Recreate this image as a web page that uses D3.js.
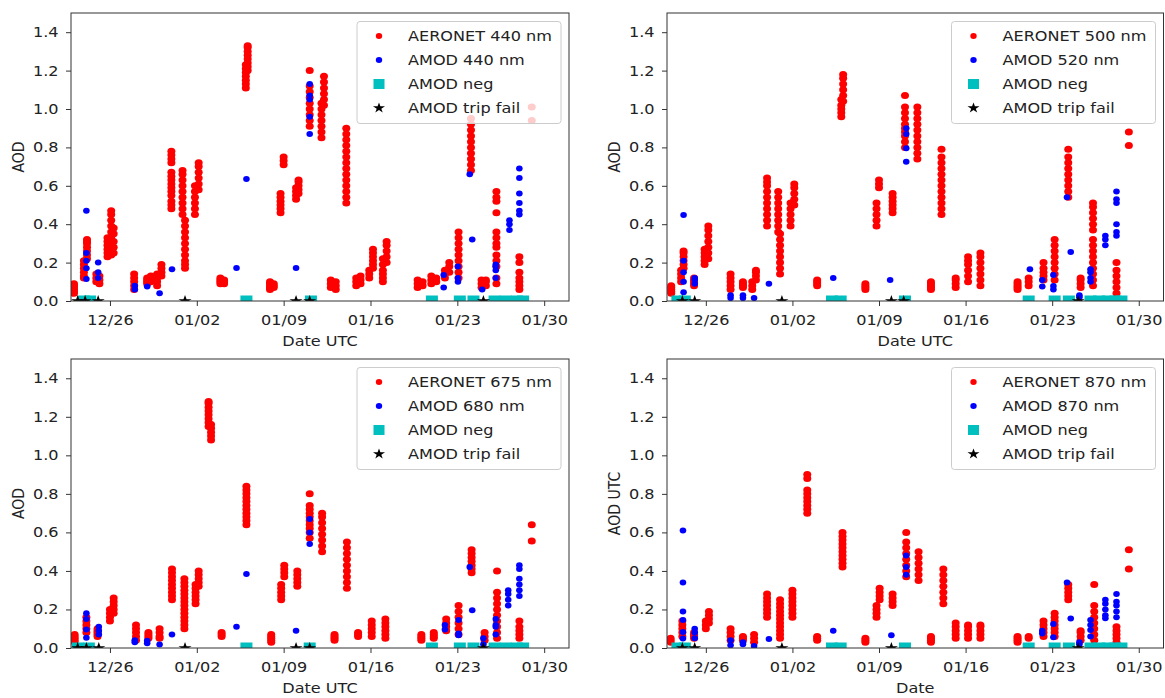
<!DOCTYPE html>
<html>
<head>
<meta charset="utf-8">
<script src="https://cdn.jsdelivr.net/npm/d3@7"></script>
<style>
  body { margin: 0; background: #fff; }
  svg { display: block; font-family: "DejaVu Sans", sans-serif; }
</style>
</head>
<body>
<div id="chart-area"></div>
<script>
/******************************
*           DATA              *
******************************/
// days are counted from 12/26 00:00 UTC, each entry is [day, [AOD values]]
const baseDay = Date.UTC(2018, 11, 26);
const tickDates = ["2018-12-26", "2019-01-02", "2019-01-09", "2019-01-16", "2019-01-23", "2019-01-30"];
const yTicks = [0, 0.2, 0.4, 0.6, 0.8, 1.0, 1.2, 1.4];

const aeronet440 = [
  [-2.9, [.04,.05,.06,.07,.08,.09]],
  [-2.1, [.12,.13,.15,.17,.19,.21]],
  [-1.85, [.22,.24,.26,.28,.30,.31,.32]],
  [-1.1, [.10,.12,.14]],
  [-0.85, [.09,.11,.13]],
  [-0.2, [.23,.25,.27,.29,.31,.33]],
  [0.1, [.24,.27,.30,.33,.36,.39,.42,.45,.47]],
  [0.3, [.25,.28,.31,.35,.38]],
  [1.95, [.06,.08,.10,.12,.14]],
  [3.0, [.09,.10,.11,.12]],
  [3.3, [.10,.11,.13]],
  [3.8, [.08,.10,.12,.14]],
  [4.15, [.13,.15,.17,.19]],
  [4.95, [.48,.50,.52,.55,.57,.59,.61,.63,.65,.67,.72,.74,.76,.78]],
  [5.85, [.45,.48,.51,.54,.57,.60,.63,.66,.68]],
  [6.05, [.17,.19,.21,.24,.27,.30,.33,.36,.39,.42]],
  [6.85, [.45,.48,.51,.54,.57,.60]],
  [7.15, [.58,.61,.64,.67,.70,.72]],
  [8.9, [.09,.10,.11,.12]],
  [9.2, [.09,.10,.11]],
  [10.95, [1.11,1.13,1.15,1.17,1.19,1.21,1.23]],
  [11.1, [1.20,1.22,1.24,1.26,1.28,1.30,1.32,1.33]],
  [12.9, [.06,.07,.08,.09,.10]],
  [13.2, [.07,.08,.09]],
  [13.75, [.46,.48,.50,.52,.54,.56]],
  [14.0, [.71,.73,.75]],
  [15.0, [.53,.55,.57,.59]],
  [15.2, [.56,.58,.60,.62,.63]],
  [16.1, [.91,.94,.97,1.00,1.03,1.06,1.09,1.12,1.20]],
  [17.05, [.85,.88,.91,.94,.97,1.00,1.03]],
  [17.25, [1.02,1.05,1.08,1.11,1.14,1.17]],
  [17.8, [.07,.09,.11]],
  [18.2, [.06,.08,.10]],
  [19.05, [.51,.54,.57,.60,.63,.66,.69,.72,.75,.78,.81,.84,.87,.90]],
  [19.85, [.08,.10,.12]],
  [20.2, [.09,.11,.13]],
  [20.9, [.12,.14,.16]],
  [21.2, [.17,.19,.21,.23,.25,.27]],
  [22.0, [.10,.12,.14,.16,.19,.22]],
  [22.3, [.20,.23,.26,.29,.31]],
  [24.8, [.07,.09,.11]],
  [25.2, [.08,.10]],
  [25.9, [.09,.11,.13]],
  [26.3, [.10,.12]],
  [27.0, [.12,.14,.16]],
  [27.35, [.15,.18,.20]],
  [28.1, [.12,.15,.18,.21,.24,.27,.30,.33,.36]],
  [29.1, [.68,.71,.74,.77,.80,.83,.86,.89,.92,.95]],
  [29.95, [.07,.09,.11]],
  [30.3, [.08,.10,.11]],
  [31.15, [.09,.12,.18,.21,.24,.28,.30,.33,.36,.46,.52,.54,.57]],
  [33.0, [.06,.08,.10,.12,.15,.20,.23]],
  [34.0, [.94,1.01]]
];
const amod440 = [
  [-1.9, [.115,.17,.21,.25,.47]],
  [-0.95, [.12,.15,.20]],
  [2.0, [.06,.08]],
  [3.0, [.075]],
  [4.0, [.04]],
  [5.0, [.165]],
  [10.2, [.172]],
  [11.0, [.636]],
  [15.0, [.172]],
  [16.1, [.87,.96,1.05,1.07,1.13]],
  [26.9, [.07,.135]],
  [28.05, [.10,.12,.18]],
  [29.0, [.66]],
  [29.2, [.32]],
  [30.0, [.06]],
  [31.1, [.12,.16,.18,.19]],
  [32.2, [.37,.40,.42]],
  [33.0, [.45,.47,.51,.56,.64,.69]]
];
const neg440 = [-2.1, -1.6, 11.0, 16.2, 25.95, 28.2, 29.3, 31.0, 31.9, 32.8, 33.3];
const fail440 = [-2.6, -2.0, -0.95, 6.05, 15.0, 16.1, 30.1];

const aeronet500 = [
  [-2.8, [.04,.05,.06,.07,.08]],
  [-2.0, [.10,.12,.14,.16]],
  [-1.8, [.17,.19,.21,.23,.25,.26]],
  [-0.95, [.08,.09,.10,.11,.12]],
  [-0.1, [.19,.21,.23,.25,.27]],
  [0.2, [.22,.25,.28,.31,.34,.37,.39]],
  [2.0, [.06,.08,.10,.12,.14]],
  [3.0, [.07,.08,.09,.10]],
  [3.75, [.06,.08,.10]],
  [4.05, [.11,.13,.15,.16]],
  [4.95, [.39,.42,.45,.48,.51,.54,.57,.60,.62,.64]],
  [5.85, [.36,.39,.42,.45,.48,.51,.54,.57]],
  [6.0, [.14,.17,.20,.23,.26,.29,.32,.35]],
  [6.85, [.39,.42,.45,.48,.51]],
  [7.15, [.50,.53,.56,.59,.61]],
  [9.0, [.08,.09,.10,.11]],
  [10.95, [.96,.98,1.00,1.02,1.05]],
  [11.1, [1.04,1.07,1.10,1.13,1.16,1.18]],
  [12.9, [.06,.07,.08,.09]],
  [13.8, [.39,.42,.45,.48,.51]],
  [14.0, [.59,.61,.63]],
  [15.1, [.46,.48,.50,.52,.54,.56]],
  [16.1, [.80,.83,.86,.88,.90,.92,.95,.98,1.01,1.07]],
  [17.1, [.74,.77,.80,.83,.86,.89,.92,.95,.98,1.01]],
  [18.2, [.06,.07,.08,.09,.10]],
  [19.05, [.45,.48,.51,.54,.57,.60,.63,.66,.69,.72,.75,.79]],
  [20.2, [.07,.09,.11,.12]],
  [21.2, [.10,.13,.16,.19,.21,.23]],
  [22.2, [.08,.11,.14,.17,.20,.23,.25]],
  [25.2, [.06,.07,.08,.09,.10]],
  [26.1, [.08,.10,.12]],
  [27.3, [.11,.13,.15,.17,.20]],
  [28.2, [.11,.14,.17,.20,.23,.26,.29,.32]],
  [29.3, [.54,.57,.60,.63,.66,.69,.72,.75,.79]],
  [30.3, [.07,.09,.11,.12]],
  [31.3, [.08,.11,.14,.17,.20,.23,.26,.29,.32,.37,.40,.43,.46,.49,.51]],
  [33.2, [.04,.07,.10,.13,.16,.20]],
  [34.2, [.81,.88]]
];
const amod520 = [
  [-1.8, [.045,.10,.15,.21,.448]],
  [-0.9, [.09,.11,.12]],
  [2.0, [.015,.03]],
  [3.0, [.015,.03]],
  [3.9, [.015]],
  [5.1, [.09]],
  [10.3, [.12]],
  [14.9, [.11]],
  [16.2, [.725,.795,.87,.90]],
  [26.2, [.165]],
  [27.2, [.075,.11]],
  [28.1, [.06,.078,.135]],
  [29.2, [.54]],
  [29.5, [.255]],
  [30.2, [.02,.03]],
  [31.1, [.10,.12,.15,.165]],
  [32.3, [.29,.32,.34]],
  [33.2, [.34,.36,.40,.51,.53,.57]]
];
const neg500 = [-2.3, -1.7, 10.2, 10.9, 16.1, 26.1, 28.2, 29.35, 31.1, 31.8, 32.5, 33.1, 33.6];
const fail500 = [-1.9, -0.9, 6.15, 15.0, 16.0, 30.1];

const aeronet675 = [
  [-2.85, [.03,.04,.05,.06,.07]],
  [-1.9, [.08,.10,.12,.14,.16]],
  [-1.0, [.06,.07,.08,.09,.10]],
  [0.0, [.14,.16,.18,.20]],
  [0.3, [.18,.20,.22,.24,.26]],
  [2.1, [.04,.06,.08,.10,.12]],
  [3.1, [.05,.06,.07,.08]],
  [4.0, [.05,.06,.08,.10]],
  [5.0, [.25,.27,.29,.31,.33,.35,.37,.39,.41]],
  [6.0, [.10,.12,.14,.16,.18,.20,.22,.24,.26,.28,.30,.32,.34,.36]],
  [6.9, [.23,.25,.27,.29,.31,.33]],
  [7.15, [.32,.34,.36,.38,.40]],
  [7.95, [1.15,1.17,1.19,1.21,1.23,1.25,1.27,1.28]],
  [8.15, [1.08,1.10,1.12,1.14,1.16]],
  [9.0, [.06,.07,.08]],
  [11.0, [.64,.66,.68,.70,.72,.74,.76,.78,.80,.82,.84]],
  [13.0, [.03,.04,.05,.06,.07]],
  [13.8, [.25,.27,.29,.31,.33]],
  [14.05, [.37,.39,.41,.43]],
  [15.1, [.32,.34,.36,.38,.40]],
  [16.1, [.57,.60,.62,.64,.66,.68,.70,.72,.74,.80]],
  [17.1, [.50,.53,.56,.59,.62,.65,.68,.70]],
  [18.1, [.04,.05,.06,.07]],
  [19.1, [.31,.34,.37,.40,.43,.46,.49,.52,.55]],
  [20.0, [.06,.07,.08]],
  [21.1, [.06,.08,.10,.12,.14]],
  [22.2, [.05,.07,.09,.11,.13,.15]],
  [25.1, [.04,.05,.06,.07]],
  [26.1, [.05,.06,.07,.08]],
  [27.1, [.09,.11,.13,.15]],
  [28.1, [.07,.10,.13,.16,.19,.22]],
  [29.15, [.39,.41,.43,.45,.47,.49,.51]],
  [30.2, [.04,.06,.08]],
  [31.2, [.05,.08,.11,.14,.17,.20,.23,.26,.29,.40]],
  [33.0, [.05,.07,.09,.11,.14]],
  [34.0, [.555,.64]]
];
const amod680 = [
  [-1.9, [.053,.096,.15,.18]],
  [-0.9, [.07,.09,.11]],
  [2.0, [.03,.04]],
  [3.0, [.025,.037]],
  [4.0, [.018]],
  [5.0, [.07]],
  [10.2, [.11]],
  [11.0, [.384]],
  [15.0, [.09]],
  [16.1, [.54,.60,.67]],
  [27.0, [.096,.119]],
  [28.1, [.066,.075,.145]],
  [29.0, [.42]],
  [29.2, [.196]],
  [30.1, [.02,.05]],
  [31.1, [.07,.11,.12,.15]],
  [32.1, [.22,.25,.28,.30]],
  [33.0, [.27,.30,.33,.36,.41,.43]]
];
const neg675 = [-2.6, -1.7, 11.0, 16.1, 25.95, 28.2, 29.3, 31.0, 31.9, 32.8, 33.3];
const fail675 = [-2.6, -1.9, -0.9, 6.05, 15.0, 16.1, 30.1];

const aeronet870 = [
  [-2.85, [.03,.04,.05]],
  [-1.9, [.06,.08,.10,.12,.14]],
  [-0.95, [.05,.06,.07,.08]],
  [0.0, [.10,.12,.14]],
  [0.25, [.13,.15,.17,.19]],
  [2.0, [.04,.06,.08,.10]],
  [3.0, [.04,.05,.06]],
  [3.9, [.03,.05,.07]],
  [4.95, [.16,.18,.20,.22,.24,.26,.28]],
  [6.0, [.05,.07,.09,.11,.13,.15,.17,.19,.21,.23,.25]],
  [7.0, [.16,.18,.20,.22,.24,.26,.28,.30]],
  [8.2, [.70,.72,.74,.76,.78,.80,.82,.88,.90]],
  [9.0, [.04,.05,.06]],
  [11.05, [.42,.44,.46,.48,.50,.52,.54,.56,.58,.60]],
  [12.9, [.03,.04,.05]],
  [13.8, [.16,.18,.20,.22]],
  [14.05, [.25,.27,.29,.31]],
  [15.1, [.22,.24,.26,.28]],
  [16.2, [.37,.40,.43,.46,.49,.52,.55,.60]],
  [17.2, [.35,.38,.41,.44,.47,.50]],
  [18.2, [.03,.04,.05,.06]],
  [19.2, [.23,.26,.29,.32,.35,.38,.41]],
  [20.2, [.05,.07,.09,.11,.13]],
  [21.2, [.05,.07,.09,.11,.12]],
  [22.2, [.05,.07,.09,.11,.12]],
  [25.2, [.03,.04,.05,.06]],
  [26.1, [.05,.06]],
  [27.3, [.06,.08,.10,.12,.14]],
  [28.2, [.06,.08,.10,.12,.14,.16,.18]],
  [29.3, [.25,.27,.29,.31,.33]],
  [30.3, [.04,.06,.08,.09]],
  [31.4, [.04,.07,.10,.13,.16,.19,.22,.33]],
  [33.2, [.03,.05,.07,.09,.11]],
  [34.2, [.41,.51]]
];
const amod870 = [
  [-1.85, [.049,.083,.145,.19,.34,.61]],
  [-0.9, [.05,.08,.10]],
  [2.0, [.014,.04]],
  [3.0, [.02,.03]],
  [3.9, [.01]],
  [5.1, [.047]],
  [10.3, [.09]],
  [15.0, [.066]],
  [16.2, [.38,.42,.48]],
  [27.2, [.075,.09]],
  [28.1, [.056,.125]],
  [29.2, [.34]],
  [29.5, [.153]],
  [30.2, [.02,.03]],
  [31.1, [.06,.094,.12,.145]],
  [32.3, [.155,.17,.20,.23,.25]],
  [33.2, [.16,.19,.22,.24,.28]]
];
const neg870 = [-2.3, -1.7, 10.2, 10.9, 16.1, 26.1, 28.2, 29.35, 31.1, 31.8, 32.5, 33.1, 33.6];
const fail870 = [-1.9, -0.9, 6.15, 15.0, 30.1];

/******************************
*     LAYOUT AND HELPERS      *
******************************/
const W = 1165, H = 698;
const SX = 1.15;   // the picture is a little wider than tall, text too
const FS = 14;

const panels = [
  { L: 71,  R: 569,    T: 13,  B: 301, red: aeronet440, blue: amod440, neg: neg440, fail: fail440,
    names: ["AERONET 440 nm", "AMOD 440 nm"], ylabel: "AOD", xlabel: "Date UTC" },
  { L: 667, R: 1163.5, T: 13,  B: 301, red: aeronet500, blue: amod520, neg: neg500, fail: fail500,
    names: ["AERONET 500 nm", "AMOD 520 nm"], ylabel: "AOD", xlabel: "Date UTC" },
  { L: 71,  R: 569,    T: 359, B: 648, red: aeronet675, blue: amod680, neg: neg675, fail: fail675,
    names: ["AERONET 675 nm", "AMOD 680 nm"], ylabel: "AOD", xlabel: "Date UTC" },
  { L: 667, R: 1163.5, T: 359, B: 648, red: aeronet870, blue: amod870, neg: neg870, fail: fail870,
    names: ["AERONET 870 nm", "AMOD 870 nm"], ylabel: "AOD UTC", xlabel: "Date" }
];

const toDate = (d) => new Date(baseDay + d * 864e5);
const flat = (clusters) => clusters.flatMap(([d, vals]) => vals.map((v) => ({ d: d, v: v })));
const fmt = d3.utcFormat("%m/%d");

const svg = d3.select("#chart-area")
  .append("svg")
    .attr("width", W)
    .attr("height", H);

// text stretched a bit sideways, like in the picture
function sText(g, x, y, str, anchor) {
  return g.append("text")
    .attr("transform", "translate(" + x + "," + y + ") scale(" + SX + ",1)")
    .attr("text-anchor", anchor || "start")
    .attr("font-size", FS)
    .attr("fill", "#222")
    .text(str);
}

panels.forEach((p, i) => {
  const g = svg.append("g");

  const x = d3.scaleUtc()
    .domain([toDate(-3.14), toDate(37.0)])
    .range([p.L, p.R]);
  const y = d3.scaleLinear()
    .domain([0, 1.5])
    .range([p.B, p.T]);

  const clipId = "clip" + i;
  g.append("clipPath").attr("id", clipId)
    .append("rect")
      .attr("x", p.L).attr("y", p.T)
      .attr("width", p.R - p.L).attr("height", p.B - p.T);

  const plot = g.append("g").attr("clip-path", "url(#" + clipId + ")");

  // AERONET (slightly wide dots, the picture is stretched sideways)
  plot.selectAll("ellipse.red")
    .data(flat(p.red))
    .enter().append("ellipse")
      .attr("class", "red")
      .attr("cx", (d) => x(toDate(d.d)))
      .attr("cy", (d) => y(d.v))
      .attr("rx", 4.0)
      .attr("ry", 3.5)
      .attr("fill", "#ff0000");

  // AMOD
  plot.selectAll("ellipse.blue")
    .data(flat(p.blue))
    .enter().append("ellipse")
      .attr("class", "blue")
      .attr("cx", (d) => x(toDate(d.d)))
      .attr("cy", (d) => y(d.v))
      .attr("rx", 3.3)
      .attr("ry", 3.0)
      .attr("fill", "#0000ff");

  // AMOD neg
  plot.selectAll("rect.neg")
    .data(p.neg)
    .enter().append("rect")
      .attr("class", "neg")
      .attr("x", (d) => x(toDate(d)) - 6)
      .attr("y", y(0) - 5.5)
      .attr("width", 12)
      .attr("height", 11)
      .attr("fill", "#00bfbf");

  // AMOD trip fail
  plot.selectAll("path.fail")
    .data(p.fail)
    .enter().append("path")
      .attr("class", "fail")
      .attr("transform", (d) => "translate(" + x(toDate(d)) + "," + y(0) + ") scale(" + SX + ",1)")
      .attr("d", d3.symbol(d3.symbolStar).size(40))
      .attr("fill", "#000");

  // x-axis
  const xAxis = g.append("g")
    .attr("transform", "translate(0," + p.B + ")")
    .call(d3.axisBottom(x)
      .tickValues(tickDates.map((s) => new Date(s + "T00:00:00Z")))
      .tickFormat(fmt)
      .tickSize(5)
      .tickSizeOuter(0));
  xAxis.select(".domain").remove();
  xAxis.attr("font-size", FS).attr("font-family", null).attr("color", "#222");
  xAxis.selectAll("line").attr("stroke", "#333");
  xAxis.selectAll("text")
    .attr("y", 14.5)
    .attr("transform", "scale(" + SX + ",1)");

  // y-axis
  const yAxis = g.append("g")
    .attr("transform", "translate(" + p.L + ",0)")
    .call(d3.axisLeft(y)
      .tickValues(yTicks)
      .tickFormat(d3.format(".1f"))
      .tickSize(5)
      .tickSizeOuter(0));
  yAxis.select(".domain").remove();
  yAxis.attr("font-size", FS).attr("font-family", null).attr("color", "#222");
  yAxis.selectAll("line").attr("stroke", "#333");
  yAxis.selectAll("text")
    .attr("x", -12.5 / SX)
    .attr("transform", "scale(" + SX + ",1)");

  // frame
  g.append("rect")
    .attr("x", p.L).attr("y", p.T)
    .attr("width", p.R - p.L).attr("height", p.B - p.T)
    .attr("fill", "none")
    .attr("stroke", "#333")
    .attr("stroke-width", 1);

  // labels
  sText(g, (p.L + p.R) / 2, p.B + 45, p.xlabel, "middle");
  g.append("text")
    .attr("transform", "translate(" + (p.L - 47) + "," + ((p.T + p.B) / 2) + ") scale(" + SX + ",1) rotate(-90)")
    .attr("text-anchor", "middle")
    .attr("font-size", FS)
    .attr("fill", "#222")
    .text(p.ylabel);

  // legend
  const lx = p.R - 212, ly = p.T + 8.5;
  const lg = g.append("g");
  lg.append("rect")
    .attr("x", lx).attr("y", ly)
    .attr("width", 204).attr("height", 102)
    .attr("rx", 3)
    .attr("fill", "#fff").attr("fill-opacity", 0.8)
    .attr("stroke", "#ccc");

  const rows = [p.names[0], p.names[1], "AMOD neg", "AMOD trip fail"];
  rows.forEach((label, k) => {
    const cy = ly + 14.5 + 24 * k;
    const mx = lx + 22;
    if (k === 0) lg.append("ellipse").attr("cx", mx).attr("cy", cy).attr("rx", 3.2).attr("ry", 2.9).attr("fill", "#ff0000");
    if (k === 1) lg.append("ellipse").attr("cx", mx).attr("cy", cy).attr("rx", 3.2).attr("ry", 2.9).attr("fill", "#0000ff");
    if (k === 2) lg.append("rect").attr("x", mx - 5.5).attr("y", cy - 5).attr("width", 11).attr("height", 10).attr("fill", "#00bfbf");
    if (k === 3) lg.append("path")
      .attr("transform", "translate(" + mx + "," + cy + ") scale(" + SX + ",1)")
      .attr("d", d3.symbol(d3.symbolStar).size(34))
      .attr("fill", "#000");
    sText(lg, lx + 51, cy + 5, label);
  });
});
</script>
</body>
</html>
